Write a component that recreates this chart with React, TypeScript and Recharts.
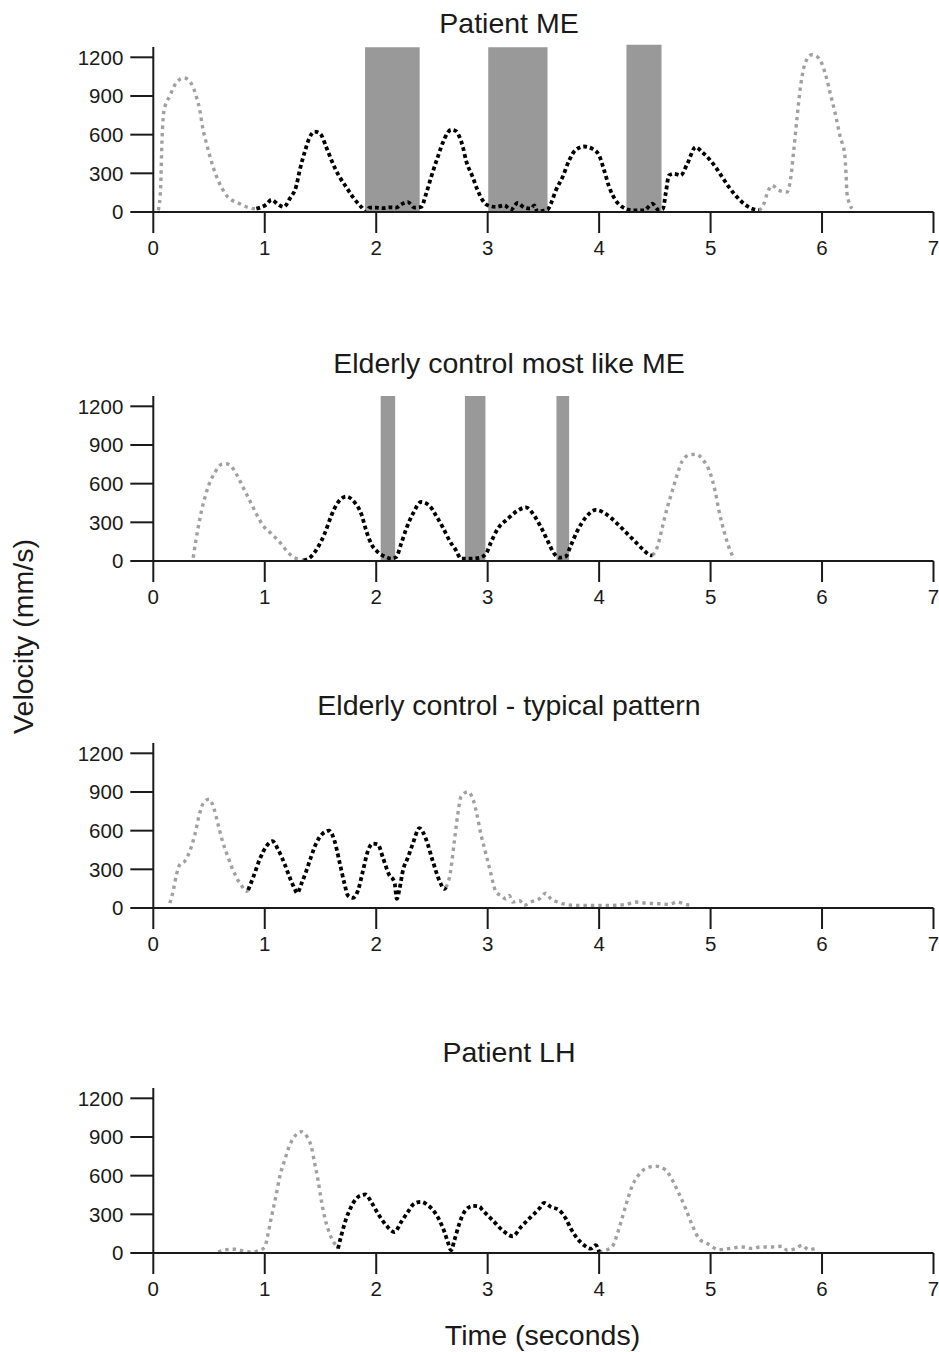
import React from 'react';
import { ComposedChart, Line, XAxis, YAxis, ReferenceArea } from 'recharts';

type Pt = [number, number];

const xTicks = [0, 1, 2, 3, 4, 5, 6, 7];
const yTicks = [0, 300, 600, 900, 1200];
const panelTitles = ['Patient ME', 'Elderly control most like ME', 'Elderly control - typical pattern', 'Patient LH'];

// Patient ME
const meGreyStart: Pt[] = [[0.045,13],[0.066,194],[0.078,555],[0.096,787],[0.149,903],[0.209,1006],[0.275,1040],[0.343,993],[0.388,890],[0.418,787],[0.442,658],[0.478,529],[0.537,348],[0.582,245],[0.657,129],[0.776,64],[0.91,26],[0.925,26]];
const meBlack: Pt[] = [[0.925,26],[1.015,59],[1.06,95],[1.119,59],[1.17,39],[1.224,103],[1.284,206],[1.313,322],[1.358,464],[1.403,580],[1.448,624],[1.499,606],[1.552,503],[1.612,374],[1.672,271],[1.731,193],[1.791,116],[1.866,39],[1.91,0],[1.94,34],[2.0,34],[2.06,30],[2.12,36],[2.18,34],[2.224,59],[2.284,77],[2.343,34],[2.403,39],[2.448,142],[2.493,271],[2.552,426],[2.612,568],[2.672,637],[2.716,627],[2.746,585],[2.776,510],[2.806,400],[2.866,271],[2.91,168],[2.955,90],[3.0,52],[3.075,39],[3.149,52],[3.209,18],[3.269,70],[3.328,34],[3.388,26],[3.418,52],[3.448,0],[3.493,8],[3.537,18],[3.567,64],[3.612,168],[3.672,271],[3.731,400],[3.791,483],[3.866,508],[3.94,490],[4.0,439],[4.045,323],[4.09,194],[4.149,90],[4.209,39],[4.299,13],[4.403,13],[4.478,64],[4.531,18],[4.573,26],[4.597,142],[4.627,284],[4.672,297],[4.731,284],[4.791,374],[4.866,503],[4.925,464],[4.985,413],[5.045,348],[5.104,271],[5.164,194],[5.224,129],[5.299,64],[5.373,26],[5.433,13]];
const meGreyEnd: Pt[] = [[5.433,13],[5.478,64],[5.507,142],[5.552,206],[5.612,168],[5.687,155],[5.716,245],[5.746,477],[5.776,735],[5.806,968],[5.851,1161],[5.91,1220],[5.97,1195],[6.03,1071],[6.075,916],[6.119,761],[6.164,580],[6.203,452],[6.215,297],[6.224,142],[6.269,26]];
const meBarStart = [1.9, 3.005, 4.245];
const meBarEnd = [2.39, 3.537, 4.56];
const meBarTop = [1278, 1278, 1298];

// Elderly control most like ME
const likeGreyStart: Pt[] = [[0.358,26],[0.382,159],[0.403,262],[0.433,391],[0.463,493],[0.501,596],[0.552,686],[0.612,750],[0.65,755],[0.687,745],[0.746,673],[0.806,571],[0.866,468],[0.925,365],[0.985,275],[1.06,211],[1.134,146],[1.194,82],[1.254,31],[1.328,10],[1.349,5]];
const likeBlack: Pt[] = [[1.349,5],[1.418,36],[1.478,108],[1.537,211],[1.597,352],[1.657,455],[1.731,499],[1.806,455],[1.866,365],[1.91,236],[1.955,134],[2.015,69],[2.075,36],[2.134,18],[2.179,31],[2.224,134],[2.269,249],[2.328,365],[2.403,458],[2.478,429],[2.537,352],[2.597,262],[2.657,159],[2.716,82],[2.761,18],[2.836,18],[2.925,25],[2.985,57],[3.03,146],[3.09,249],[3.179,326],[3.269,391],[3.343,416],[3.418,352],[3.478,262],[3.537,159],[3.597,57],[3.642,26],[3.701,36],[3.746,121],[3.806,236],[3.881,339],[3.97,396],[4.06,365],[4.149,301],[4.239,224],[4.328,146],[4.403,82],[4.463,44],[4.478,44]];
const likeGreyEnd: Pt[] = [[4.478,44],[4.522,108],[4.567,262],[4.612,416],[4.657,545],[4.701,673],[4.746,776],[4.806,822],[4.866,828],[4.94,776],[5.0,673],[5.04,545],[5.075,391],[5.119,236],[5.164,108],[5.209,18]];
const likeBarStart = [2.04, 2.796, 3.617];
const likeBarEnd = [2.17, 2.98, 3.731];
const likeBarTop = [1280, 1280, 1280];

// Elderly control - typical pattern
const typGreyStart: Pt[] = [[0.149,38],[0.179,135],[0.209,263],[0.239,340],[0.284,365],[0.328,442],[0.373,569],[0.412,722],[0.448,812],[0.501,845],[0.543,774],[0.582,646],[0.621,518],[0.672,391],[0.731,263],[0.791,174],[0.836,130],[0.851,140]];
const typBlack: Pt[] = [[0.851,140],[0.896,237],[0.955,378],[1.015,480],[1.069,518],[1.119,454],[1.179,340],[1.224,237],[1.269,148],[1.29,115],[1.328,186],[1.373,288],[1.418,403],[1.463,505],[1.516,574],[1.576,600],[1.627,518],[1.672,352],[1.716,186],[1.746,97],[1.791,79],[1.836,135],[1.881,288],[1.925,442],[1.97,500],[2.015,493],[2.06,391],[2.113,263],[2.164,199],[2.185,71],[2.209,148],[2.239,288],[2.284,391],[2.328,498],[2.388,620],[2.448,531],[2.507,365],[2.567,212],[2.612,148],[2.627,161]];
const typGreyEnd: Pt[] = [[2.627,161],[2.663,263],[2.701,518],[2.731,722],[2.761,863],[2.821,901],[2.87,840],[2.9,740],[2.94,569],[2.97,467],[3.0,365],[3.03,263],[3.051,186],[3.075,123],[3.119,97],[3.164,71],[3.194,97],[3.224,46],[3.284,59],[3.328,20],[3.388,46],[3.463,71],[3.522,115],[3.567,71],[3.627,46],[3.701,28],[3.791,20],[3.94,20],[4.09,20],[4.239,28],[4.328,46],[4.418,38],[4.537,33],[4.627,28],[4.701,46],[4.776,28],[4.821,20]];

// Patient LH
const lhGreyStart: Pt[] = [[0.582,8],[0.657,26],[0.731,29],[0.806,16],[0.881,8],[0.955,21],[1.0,47],[1.03,150],[1.06,280],[1.099,435],[1.134,591],[1.179,721],[1.224,837],[1.278,915],[1.328,941],[1.379,902],[1.418,824],[1.448,695],[1.478,565],[1.507,410],[1.537,280],[1.582,150],[1.627,73],[1.657,34]];
const lhBlack: Pt[] = [[1.657,34],[1.687,137],[1.731,267],[1.791,384],[1.851,443],[1.904,454],[1.955,397],[2.015,306],[2.09,215],[2.164,163],[2.224,241],[2.284,319],[2.343,384],[2.403,397],[2.463,371],[2.522,319],[2.567,254],[2.612,163],[2.642,86],[2.672,21],[2.701,98],[2.746,228],[2.791,319],[2.866,365],[2.925,360],[2.955,332],[3.045,254],[3.134,176],[3.224,130],[3.299,202],[3.388,280],[3.463,345],[3.507,389],[3.567,358],[3.642,332],[3.701,267],[3.746,189],[3.806,111],[3.866,60],[3.925,34],[3.97,60],[4.0,8]];
const lhGreyEnd: Pt[] = [[4.0,8],[4.06,21],[4.119,52],[4.164,150],[4.209,280],[4.254,410],[4.299,526],[4.343,591],[4.403,648],[4.507,674],[4.597,643],[4.657,565],[4.716,461],[4.776,345],[4.836,215],[4.896,111],[4.97,73],[5.075,26],[5.164,34],[5.284,47],[5.373,34],[5.448,47],[5.552,47],[5.642,52],[5.687,21],[5.761,34],[5.82,60],[5.881,26],[5.955,41]];

const FONT = '"Liberation Sans", Arial, Helvetica, sans-serif';
const INK = '#1a1a1a';
const GREY = '#a0a0a0';
const BAR = '#999999';

const toRows = (pts: Pt[]) => pts.map(([t, v]) => ({ t, v }));

interface PanelProps {
  top: number;
  grey1: Pt[];
  black: Pt[];
  grey2: Pt[];
  barStart?: number[];
  barEnd?: number[];
  barTop?: number[];
}

function Panel({ top, grey1, black, grey2, barStart = [], barEnd = [], barTop = [] }: PanelProps) {
  const tickStyle = { fontSize: 20.5, fill: INK, fontFamily: FONT };
  return (
    <div style={{ position: 'absolute', left: 0, top }}>
      <ComposedChart width={939} height={225} margin={{ top: 10, right: 5.5, bottom: 0, left: 0.3 }}>
        <XAxis
          dataKey="t"
          type="number"
          domain={[0, 7]}
          ticks={xTicks}
          interval={0}
          allowDataOverflow
          height={50}
          tickSize={21}
          tickMargin={7}
          axisLine={{ stroke: INK, strokeWidth: 2 }}
          tickLine={{ stroke: INK, strokeWidth: 2 }}
          tick={tickStyle}
        />
        <YAxis
          type="number"
          domain={[0, 1280]}
          ticks={yTicks}
          interval={0}
          allowDataOverflow
          width={153}
          tickSize={23}
          tickMargin={7}
          axisLine={{ stroke: INK, strokeWidth: 2 }}
          tickLine={{ stroke: INK, strokeWidth: 2 }}
          tick={tickStyle}
        />
        {barStart.map((s, i) => (
          <ReferenceArea
            key={'bar' + i}
            x1={s}
            x2={barEnd[i]}
            y1={0}
            y2={barTop[i]}
            fill={BAR}
            fillOpacity={1}
            stroke="none"
            ifOverflow="visible"
          />
        ))}
        <Line data={toRows(grey1)} dataKey="v" type="monotone" stroke={GREY} strokeWidth={3.4} strokeDasharray="3.4 4" dot={false} activeDot={false} isAnimationActive={false} />
        <Line data={toRows(grey2)} dataKey="v" type="monotone" stroke={GREY} strokeWidth={3.4} strokeDasharray="3.4 4" dot={false} activeDot={false} isAnimationActive={false} />
        <Line data={toRows(black)} dataKey="v" type="monotone" stroke="#000" strokeWidth={3.8} strokeDasharray="3.8 3" dot={false} activeDot={false} isAnimationActive={false} />
      </ComposedChart>
    </div>
  );
}

export default function App() {
  const titleY = [32.5, 373, 715, 1061.5];
  return (
    <div style={{ position: 'absolute', left: 0, top: 0, width: 939, height: 1352, background: '#fff', overflow: 'hidden' }}>
      <Panel top={36.7} grey1={meGreyStart} black={meBlack} grey2={meGreyEnd} barStart={meBarStart} barEnd={meBarEnd} barTop={meBarTop} />
      <Panel top={385.7} grey1={likeGreyStart} black={likeBlack} grey2={likeGreyEnd} barStart={likeBarStart} barEnd={likeBarEnd} barTop={likeBarTop} />
      <Panel top={732.7} grey1={typGreyStart} black={typBlack} grey2={typGreyEnd} />
      <Panel top={1077.7} grey1={lhGreyStart} black={lhBlack} grey2={lhGreyEnd} />
      <svg width={939} height={1352} style={{ position: 'absolute', left: 0, top: 0, pointerEvents: 'none' }}>
        {panelTitles.map((t, i) => (
          <text key={t} x={509} y={titleY[i]} textAnchor="middle" fontFamily={FONT} fontSize={28.5} fill={INK}>
            {t}
          </text>
        ))}
        <text x={542.5} y={1345} textAnchor="middle" fontFamily={FONT} fontSize={28.5} fill={INK}>
          Time (seconds)
        </text>
        <text x={33} y={636.5} textAnchor="middle" fontFamily={FONT} fontSize={28.5} fill={INK} transform="rotate(-90, 33, 636.5)">
          Velocity (mm/s)
        </text>
      </svg>
    </div>
  );
}
